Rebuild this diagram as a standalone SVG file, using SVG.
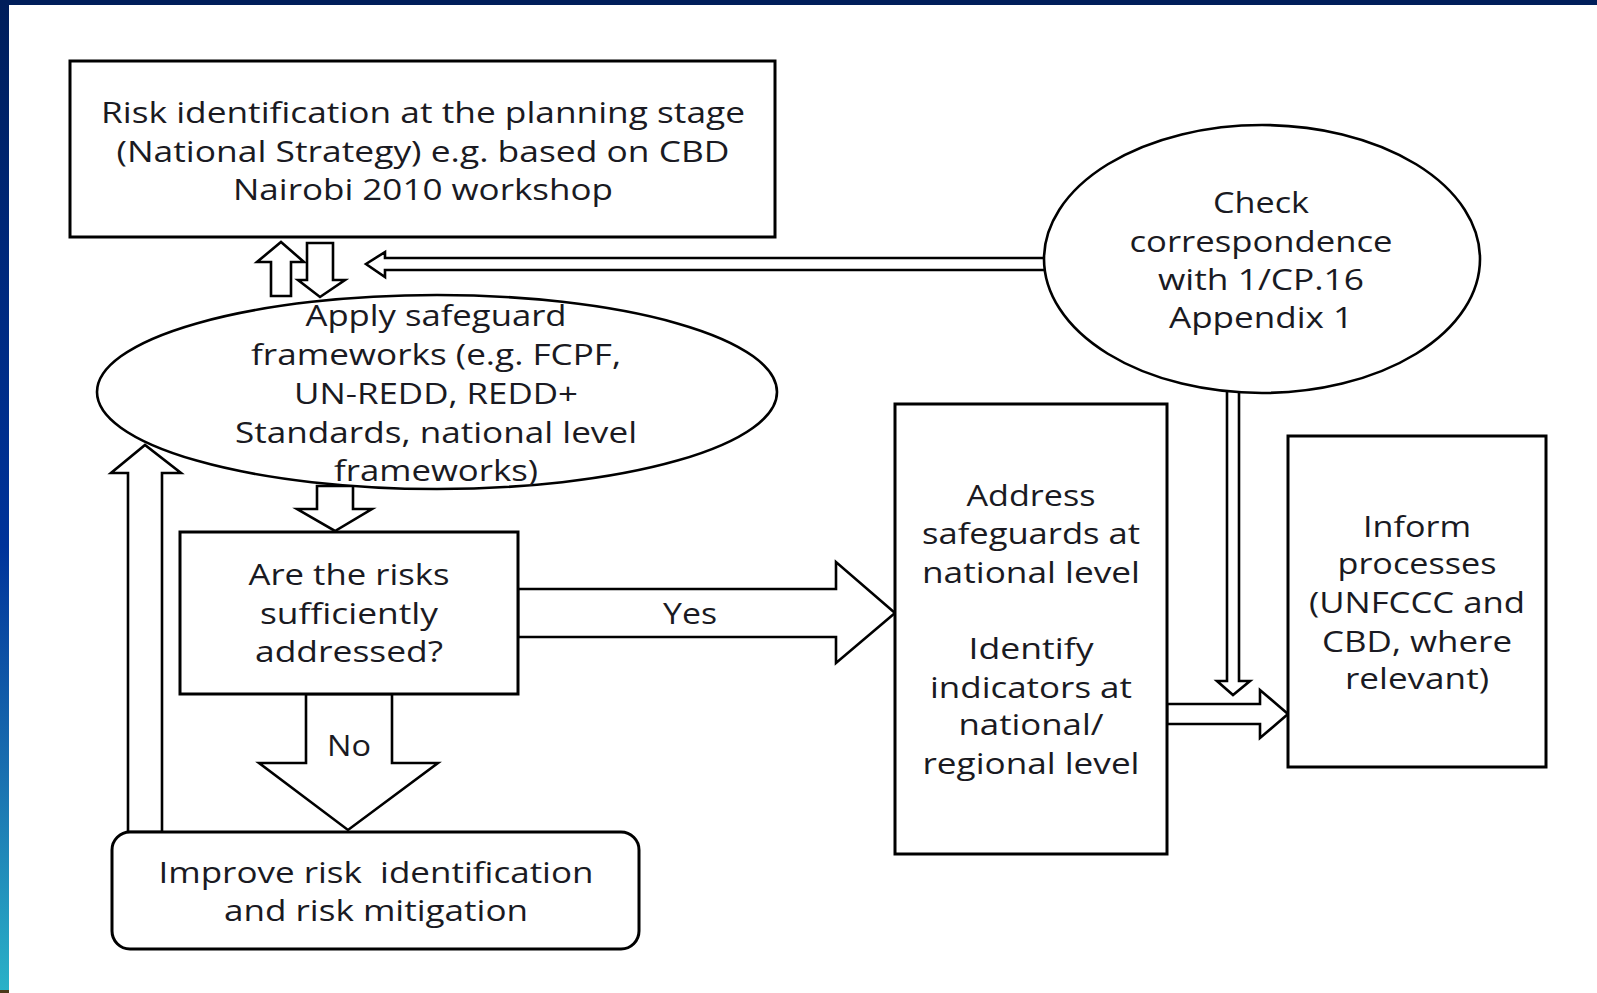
<svg xmlns="http://www.w3.org/2000/svg" width="1597" height="993" viewBox="0 0 1597 993">
<defs>
<linearGradient id="sidebar" x1="0" y1="0" x2="0" y2="1">
<stop offset="0" stop-color="#001e5a"/>
<stop offset="0.3" stop-color="#002a80"/>
<stop offset="0.55" stop-color="#00339a"/>
<stop offset="0.78" stop-color="#1a70b0"/>
<stop offset="1" stop-color="#2ab2c8"/>
</linearGradient>
<style>
.shape{fill:#ffffff;stroke:#000000;stroke-width:3}
.arrow{fill:#ffffff;stroke:#000000;stroke-width:2.6;stroke-linejoin:miter}
.t{font-family:"Open Sans","Liberation Sans",sans-serif;font-size:29px;fill:#1a1a22;text-anchor:middle;white-space:pre}
</style>
</defs>
<rect x="0" y="0" width="1597" height="993" fill="#ffffff"/>
<rect x="0" y="0" width="1597" height="5" fill="#001e5a"/>
<rect x="0" y="0" width="9" height="993" fill="url(#sidebar)"/>
<rect x="0" y="990" width="9" height="3" fill="#4a3a1a"/>

<g id="connectors">
<polygon class="arrow" points="271,296 271,262 257,262 281,242 304,262 291,262 291,296"/>
<polygon class="arrow" points="307,243 333,243 333,280 345,280 320,297 298,280 307,280"/>
<polygon class="arrow" points="1050,258 385,258 385,252 366,264 385,277 385,270 1050,270"/>
<polygon class="arrow" points="1227,385 1227,681 1217,681 1233,695 1250,681 1239,681 1239,385"/>
<polygon class="arrow" points="518,589 836,589 836,562 895,613 836,663 836,637 518,637"/>
<polygon class="arrow" points="1167,704 1260,704 1260,690 1288,714 1260,738 1260,724 1167,724"/>
<polygon class="arrow" points="317,486 353,486 353,509 372,509 335,531 297,509 317,509"/>
<polygon class="arrow" points="128,832 128,473 111,473 145,445 181,473 162,473 162,832"/>
<polygon class="arrow" points="306,694 306,763 259,763 348,830 438,763 392,763 392,694"/>
<text class="t" x="690" y="624" textLength="54" lengthAdjust="spacingAndGlyphs">Yes</text>
<text class="t" x="349" y="756" textLength="44" lengthAdjust="spacingAndGlyphs">No</text>
</g>

<g id="node-risk-identification">
<rect class="shape" x="70" y="61" width="705" height="176"/>
<text class="t" x="423" y="123" textLength="644" lengthAdjust="spacingAndGlyphs">Risk identification at the planning stage</text>
<text class="t" x="423" y="162" textLength="613" lengthAdjust="spacingAndGlyphs">(National Strategy) e.g. based on CBD</text>
<text class="t" x="423" y="200" textLength="380" lengthAdjust="spacingAndGlyphs">Nairobi 2010 workshop</text>
</g>

<g id="node-check-correspondence">
<ellipse class="shape" cx="1262" cy="259" rx="218" ry="134" style="stroke-width:2.6"/>
<text class="t" x="1261" y="213" textLength="96" lengthAdjust="spacingAndGlyphs">Check</text>
<text class="t" x="1261" y="252" textLength="263" lengthAdjust="spacingAndGlyphs">correspondence</text>
<text class="t" x="1261" y="290" textLength="206" lengthAdjust="spacingAndGlyphs">with 1/CP.16</text>
<text class="t" x="1261" y="328" textLength="184" lengthAdjust="spacingAndGlyphs">Appendix 1</text>
</g>

<g id="node-apply-safeguard">
<ellipse class="shape" cx="437" cy="392" rx="340" ry="97" style="stroke-width:2.6"/>
<text class="t" x="436" y="326" textLength="261" lengthAdjust="spacingAndGlyphs">Apply safeguard</text>
<text class="t" x="436" y="365" textLength="370" lengthAdjust="spacingAndGlyphs">frameworks (e.g. FCPF,</text>
<text class="t" x="436" y="404" textLength="284" lengthAdjust="spacingAndGlyphs">UN-REDD, REDD+</text>
<text class="t" x="436" y="443" textLength="402" lengthAdjust="spacingAndGlyphs">Standards, national level</text>
<text class="t" x="436" y="481" textLength="204" lengthAdjust="spacingAndGlyphs">frameworks)</text>
</g>

<g id="node-decision">
<rect class="shape" x="180" y="532" width="338" height="162"/>
<text class="t" x="349" y="585" textLength="201" lengthAdjust="spacingAndGlyphs">Are the risks</text>
<text class="t" x="349" y="624" textLength="178" lengthAdjust="spacingAndGlyphs">sufficiently</text>
<text class="t" x="349" y="662" textLength="188" lengthAdjust="spacingAndGlyphs">addressed?</text>
</g>

<g id="node-improve">
<rect class="shape" x="112" y="832" width="527" height="117" rx="18" ry="18"/>
<text class="t" x="376" y="883" textLength="435" lengthAdjust="spacingAndGlyphs">Improve risk  identification</text>
<text class="t" x="376" y="921" textLength="304" lengthAdjust="spacingAndGlyphs">and risk mitigation</text>
</g>

<g id="node-address">
<rect class="shape" x="895" y="404" width="272" height="450"/>
<text class="t" x="1031" y="506" textLength="129" lengthAdjust="spacingAndGlyphs">Address</text>
<text class="t" x="1031" y="544" textLength="218" lengthAdjust="spacingAndGlyphs">safeguards at</text>
<text class="t" x="1031" y="583" textLength="218" lengthAdjust="spacingAndGlyphs">national level</text>
<text class="t" x="1031" y="659" textLength="125" lengthAdjust="spacingAndGlyphs">Identify</text>
<text class="t" x="1031" y="698" textLength="202" lengthAdjust="spacingAndGlyphs">indicators at</text>
<text class="t" x="1031" y="735" textLength="145" lengthAdjust="spacingAndGlyphs">national/</text>
<text class="t" x="1031" y="774" textLength="217" lengthAdjust="spacingAndGlyphs">regional level</text>
</g>

<g id="node-inform">
<rect class="shape" x="1288" y="436" width="258" height="331"/>
<text class="t" x="1417" y="537" textLength="108" lengthAdjust="spacingAndGlyphs">Inform</text>
<text class="t" x="1417" y="574" textLength="159" lengthAdjust="spacingAndGlyphs">processes</text>
<text class="t" x="1417" y="613" textLength="216" lengthAdjust="spacingAndGlyphs">(UNFCCC and</text>
<text class="t" x="1417" y="652" textLength="190" lengthAdjust="spacingAndGlyphs">CBD, where</text>
<text class="t" x="1417" y="689" textLength="144" lengthAdjust="spacingAndGlyphs">relevant)</text>
</g>
</svg>
